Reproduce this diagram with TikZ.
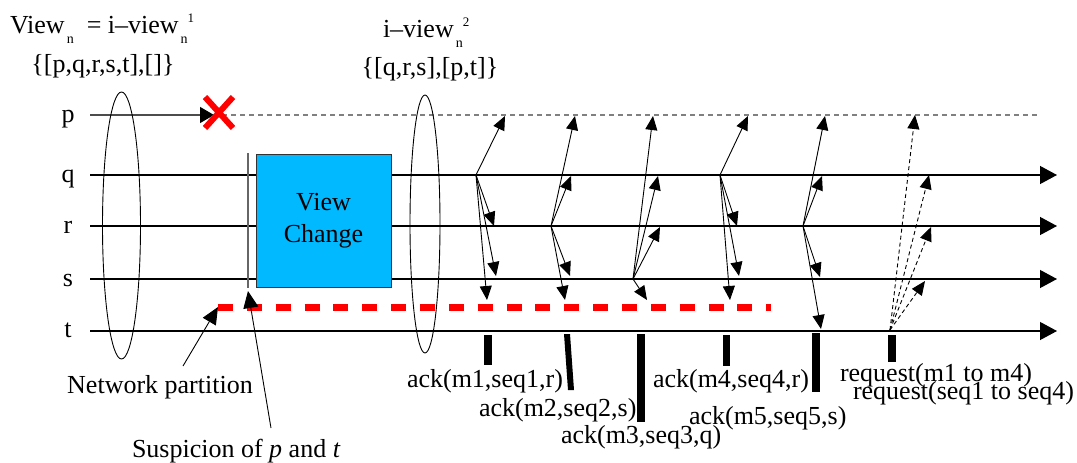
\documentclass[tikz,border=0pt]{standalone}
\usepackage{fontspec}
\setmainfont{Liberation Serif}
\usetikzlibrary{arrows.meta,shapes.geometric}
\definecolor{vcblue}{RGB}{0,185,255}
\begin{document}
\begin{tikzpicture}[x=1pt,y=-1pt,
  every node/.style={inner sep=0pt,outer sep=0pt,font=\fontsize{26}{32}\selectfont},
  tline/.style={line width=1.2pt,-{Triangle[length=17pt,width=18pt]}},
  msg/.style={line width=0.9pt,-{Triangle[length=14pt,width=12pt]}},
  reqarrow/.style={msg,dash pattern=on 4pt off 3pt},
  note/.style={line width=0.9pt,-{Triangle[length=17pt,width=15pt]}},
  ackmark/.style={fill=black,draw=none},
  oval/.style={draw=black,line width=0.9pt}]
\useasboundingbox (0,0) rectangle (1077,463);
\newcommand{\sbn}{\raisebox{-10pt}{\fontsize{14}{14}\selectfont n}}
% process labels
\node[anchor=base] (lp) at (68,122) {p};
\node[anchor=base] (lq) at (68,182) {q};
\node[anchor=base] (lr) at (68,233) {r};
\node[anchor=base] (ls) at (68,286) {s};
\node[anchor=base] (lt) at (68,337) {t};
% time lines
\coordinate (p0) at (90,115); \coordinate (p1) at (214,115);
\coordinate (p2) at (222,115); \coordinate (p3) at (1038,115);
\foreach \n/\y in {q/175,r/226,s/279,t/331}{
  \coordinate (\n0) at (90,\y); \coordinate (\n1) at (1057,\y);
}
\draw[line width=1.2pt,draw=black!70,-{Triangle[length=14pt,width=16pt,color=black]}] (p0) -- (p1);
\draw[line width=1.3pt,draw=black!50,dash pattern=on 5pt off 4pt] (p2) -- (p3);
\foreach \n in {q,r,s,t}{ \draw[tline] (\n0) -- (\n1); }
% red cross
\coordinate (x1) at (205,97); \coordinate (x2) at (233,128);
\coordinate (x3) at (233,97); \coordinate (x4) at (205,128);
\draw[red,line width=6pt] (x1) -- (x2) (x3) -- (x4);
% view change box and suspicion line
\node[draw=black!80,line width=0.8pt,fill=vcblue,minimum width=135pt,minimum height=133pt,align=center] (vc) at (323.5,220.5) {View\\Change};
\coordinate (v0) at (248,153); \coordinate (v1) at (248,288);
\draw[black!60,line width=1.5pt] (v0) -- (v1);
% red partition line
\coordinate (np0) at (218,307); \coordinate (np1) at (771,307);
\draw[red,line width=7pt,dash pattern=on 15pt off 13.86pt] (np0) -- (np1);
% ovals
\node[oval,ellipse,minimum width=38pt,minimum height=267pt] (ov1) at (121.5,225.5) {};
\node[oval,ellipse,minimum width=30pt,minimum height=258pt] (ov2) at (425,224) {};
% messages
\foreach \g/\ox/\oy/\ax/\ay/\bx/\by/\cx/\cy/\dx/\dy in {
  1/476/175/505/116/494/226/496/276/487/300,
  2/551/226/575/116/571/176/570/276/565/300,
  3/633/279/653/116/658/176/660/227/647/300,
  4/720/175/748/116/737/226/739/276/730/300,
  5/803/226/825/116/822/176/820/277/821/329}{
  \coordinate (g\g) at (\ox,\oy);
  \coordinate (g\g a) at (\ax,\ay); \coordinate (g\g b) at (\bx,\by);
  \coordinate (g\g c) at (\cx,\cy); \coordinate (g\g d) at (\dx,\dy);
  \draw[msg] (g\g) -- (g\g a);
  \draw[msg] (g\g) -- (g\g b);
  \draw[msg] (g\g) -- (g\g c);
  \draw[msg] (g\g) -- (g\g d);
}
\coordinate (g6) at (890,330);
\coordinate (g6a) at (915,115); \coordinate (g6b) at (929,175);
\coordinate (g6c) at (931,227); \coordinate (g6d) at (925,281);
\foreach \t in {a,b,c,d}{ \draw[reqarrow] (g6) -- (g6\t); }
% ack marks
\fill[ackmark] (484,335) rectangle (492,365);
\fill[ackmark] (564,334) -- (570,334) -- (574,390) -- (568,390) -- cycle;
\fill[ackmark] (637,334) rectangle (645,422);
\fill[ackmark] (723,335) rectangle (730,366);
\fill[ackmark] (812,333) rectangle (820,392);
\fill[ackmark] (888,335) rectangle (896,362);
% ack labels
\node[anchor=base west] (a1) at (407,387) {ack(m1,seq1,r)};
\node[anchor=base west] (a2) at (479,416) {ack(m2,seq2,s)};
\node[anchor=base west] (a3) at (561,443) {ack(m3,seq3,q)};
\node[anchor=base west] (a4) at (653,387) {ack(m4,seq4,r)};
\node[anchor=base west] (a5) at (689,424) {ack(m5,seq5,s)};
\node[anchor=base west] (rq1) at (840,381) {request(m1 to m4)};
\node[anchor=base west] (rq2) at (853,399) {request(seq1 to seq4)};
% top labels
\node[anchor=base west] (h1) at (10,33) {View\kern2pt\sbn\ \ = i–view\kern2pt\sbn\raisebox{10pt}{\fontsize{13}{13}\selectfont 1}};
\node[anchor=base] (h1b) at (103,72) {\{[p,q,r,s,t],[]\}};
\node[anchor=base west] (h2) at (383,37) {i–view\kern2pt\sbn\raisebox{10pt}{\fontsize{13}{13}\selectfont 2}};
\node[anchor=base] (h2b) at (430,75) {\{[q,r,s],[p,t]\}};
% annotations
\node[anchor=base] (netp) at (160,393) {Network partition};
\node[anchor=base west] (susp) at (132,457) {Suspicion of \textit{p} and \textit{t}};
\coordinate (netpa) at (183,366); \coordinate (suspa) at (271,428);
\coordinate (suspt) at (248,291);
\draw[note] (netpa) -- (np0);
\draw[note] (suspa) -- (suspt);
\end{tikzpicture}
\end{document}
